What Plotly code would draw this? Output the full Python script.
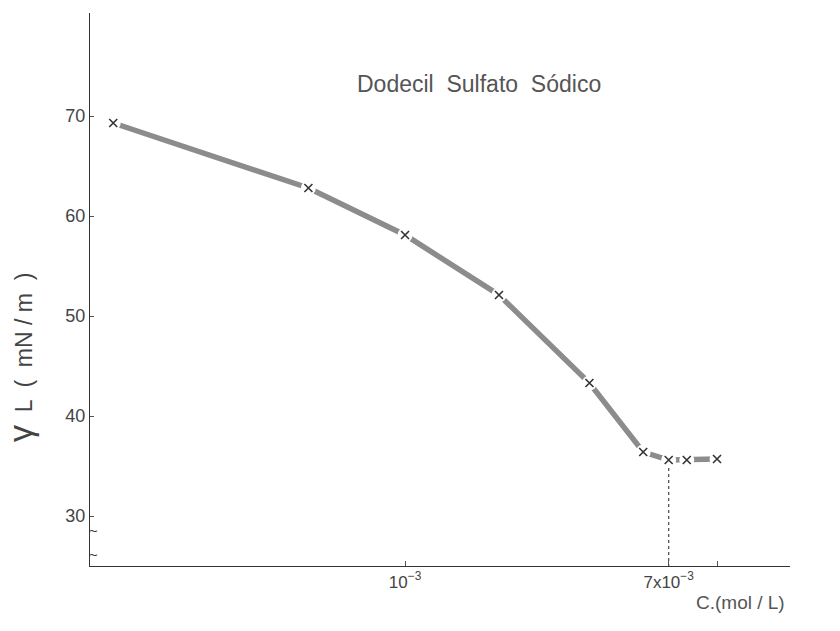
import plotly.graph_objects as go

# Data (concentration in mol/L, surface tension in mN/m)
conc = [1.16e-4, 4.9e-4, 1.0e-3, 2.0e-3, 3.9e-3, 5.8e-3, 7.0e-3, 8.0e-3, 1.0e-2]
gamma = [69.3, 62.8, 58.1, 52.1, 43.3, 36.4, 35.6, 35.6, 35.7]

cmc_x = 7.0e-3
cmc_y = 35.6

x_tickvals = [1e-3, 7e-3, 1e-2]
x_ticktext = ["10<sup>−3</sup>", "7x10<sup>−3</sup>", ""]
y_tickvals = [30, 40, 50, 60, 70]
y_ticktext = ["30", "40", "50", "60", "70"]

title_text = "Dodecil  Sulfato  Sódico"
y_title = "<span style='font-size:34px'>γ</span>  L  (  mN / m  )"
x_title = "C.(mol / L)"

fig = go.Figure()

# thick grey curve
fig.add_trace(go.Scatter(x=conc, y=gamma, mode="lines",
                         line=dict(color="#8c8c8c", width=5.5),
                         hoverinfo="skip", showlegend=False))
# white discs to open gaps around the markers
fig.add_trace(go.Scatter(x=conc, y=gamma, mode="markers",
                         marker=dict(symbol="circle", size=15, color="white",
                                     line=dict(width=0)),
                         hoverinfo="skip", showlegend=False))
# x markers
fig.add_trace(go.Scatter(x=conc, y=gamma, mode="markers",
                         marker=dict(symbol="x-thin", size=8,
                                     line=dict(width=1.6, color="#333333")),
                         showlegend=False))
# dotted vertical at the CMC
fig.add_trace(go.Scatter(x=[cmc_x, cmc_x], y=[cmc_y - 0.8, 25], mode="lines",
                         line=dict(color="#555555", width=1.3, dash="dot"),
                         hoverinfo="skip", showlegend=False))

fig.update_layout(
    width=840, height=631,
    margin=dict(l=90, r=50, t=13, b=65),
    paper_bgcolor="white", plot_bgcolor="white",
    font=dict(family="Liberation Sans, Arial, sans-serif", color="#444444", size=15),
    showlegend=False,
    xaxis=dict(type="log", range=[-4.01, -1.766],
               tickvals=x_tickvals, ticktext=x_ticktext,
               ticks="inside", ticklen=5, tickcolor="#555555",
               showline=True, linecolor="#333333", linewidth=1.2,
               showgrid=False, zeroline=False,
               tickfont=dict(size=17, color="#444444")),
    yaxis=dict(range=[25, 80.3],
               tickvals=y_tickvals, ticktext=y_ticktext,
               ticks="inside", ticklen=4, tickcolor="#555555",
               showline=True, linecolor="#333333", linewidth=1.2,
               showgrid=False, zeroline=False,
               tickfont=dict(size=18, color="#444444")),
    annotations=[
        dict(text=title_text, xref="paper", yref="paper", x=0.556, y=0.898,
             showarrow=False, font=dict(size=23, color="#555555")),
        dict(text=y_title, xref="paper", yref="paper", x=-0.1, y=0.376,
             xanchor="center", yanchor="middle",
             textangle=-90, showarrow=False,
             font=dict(size=23, color="#444444")),
        dict(text=x_title, xref="paper", yref="paper", x=0.995, y=-0.089,
             xanchor="right", showarrow=False,
             font=dict(size=19, color="#555555")),
        dict(text="~", xref="paper", yref="y", x=-0.005, y=28.6,
             showarrow=False, font=dict(size=15, color="#333333")),
        dict(text="~", xref="paper", yref="y", x=-0.005, y=26.2,
             showarrow=False, font=dict(size=15, color="#333333")),
    ],
)

fig.write_html("out.html")
